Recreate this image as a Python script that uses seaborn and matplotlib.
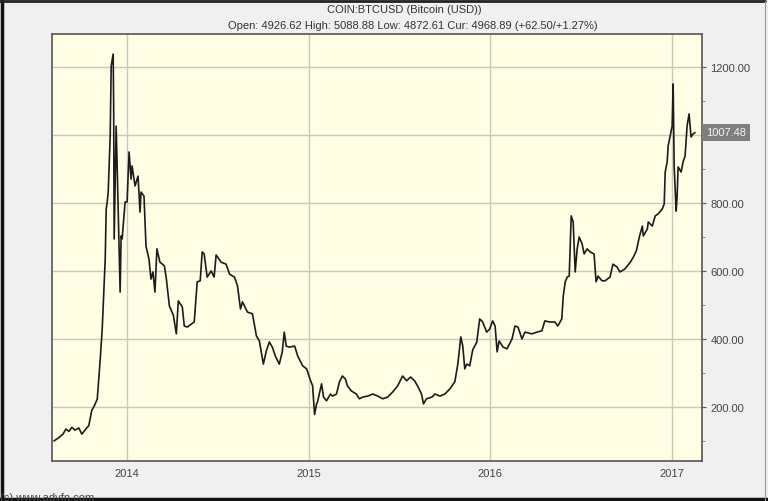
import matplotlib
matplotlib.use("Agg")
import matplotlib.pyplot as plt
from matplotlib.lines import Line2D
from matplotlib.ticker import MultipleLocator, FuncFormatter
import seaborn as sns
import pandas as pd

dates = [
    "2013-08-07", "2013-08-17", "2013-08-25", "2013-08-31", "2013-09-06", "2013-09-12",
    "2013-09-18", "2013-09-26", "2013-10-02", "2013-10-10", "2013-10-16", "2013-10-22",
    "2013-10-27", "2013-11-02", "2013-11-08", "2013-11-12", "2013-11-18", "2013-11-20",
    "2013-11-22", "2013-11-24", "2013-11-28", "2013-11-30", "2013-12-04", "2013-12-05",
    "2013-12-06", "2013-12-10", "2013-12-12", "2013-12-18", "2013-12-20", "2013-12-22",
    "2013-12-28", "2014-01-01", "2014-01-05", "2014-01-09", "2014-01-11", "2014-01-17",
    "2014-01-21", "2014-01-23", "2014-01-27", "2014-01-29", "2014-02-04", "2014-02-08",
    "2014-02-14", "2014-02-18", "2014-02-22", "2014-02-26", "2014-03-02", "2014-03-08",
    "2014-03-17", "2014-03-21", "2014-03-27", "2014-04-04", "2014-04-10", "2014-04-14",
    "2014-04-22", "2014-04-26", "2014-05-02", "2014-05-16", "2014-05-22", "2014-05-28",
    "2014-06-01", "2014-06-05", "2014-06-11", "2014-06-19", "2014-06-25", "2014-06-29",
    "2014-07-09", "2014-07-19", "2014-07-26", "2014-08-01", "2014-08-05", "2014-08-11",
    "2014-08-17", "2014-08-21", "2014-08-31", "2014-09-10", "2014-09-18", "2014-09-24",
    "2014-10-02", "2014-10-08", "2014-10-14", "2014-10-20", "2014-10-26", "2014-11-03",
    "2014-11-09", "2014-11-13", "2014-11-17", "2014-11-23", "2014-12-04", "2014-12-10",
    "2014-12-20", "2014-12-28", "2015-01-03", "2015-01-09", "2015-01-13", "2015-01-17",
    "2015-01-19", "2015-01-27", "2015-01-31", "2015-02-06", "2015-02-14", "2015-02-18",
    "2015-02-26", "2015-03-04", "2015-03-10", "2015-03-16", "2015-03-20", "2015-03-28",
    "2015-04-07", "2015-04-13", "2015-04-20", "2015-04-30", "2015-05-10", "2015-05-20",
    "2015-05-30", "2015-06-09", "2015-06-19", "2015-06-29", "2015-07-09", "2015-07-17",
    "2015-07-25", "2015-08-02", "2015-08-08", "2015-08-16", "2015-08-20", "2015-08-26",
    "2015-09-06", "2015-09-12", "2015-09-22", "2015-10-02", "2015-10-12", "2015-10-22",
    "2015-10-28", "2015-11-03", "2015-11-07", "2015-11-11", "2015-11-15", "2015-11-21",
    "2015-11-27", "2015-12-05", "2015-12-11", "2015-12-17", "2015-12-25", "2015-12-31",
    "2016-01-06", "2016-01-11", "2016-01-15", "2016-01-19", "2016-01-27", "2016-02-04",
    "2016-02-14", "2016-02-20", "2016-02-26", "2016-03-05", "2016-03-11", "2016-03-25",
    "2016-04-04", "2016-04-14", "2016-04-20", "2016-04-30", "2016-05-10", "2016-05-16",
    "2016-05-24", "2016-05-27", "2016-05-31", "2016-06-04", "2016-06-08", "2016-06-12",
    "2016-06-16", "2016-06-20", "2016-06-24", "2016-06-28", "2016-07-04", "2016-07-08",
    "2016-07-14", "2016-07-20", "2016-07-28", "2016-08-01", "2016-08-05", "2016-08-13",
    "2016-08-19", "2016-08-29", "2016-09-04", "2016-09-12", "2016-09-18", "2016-09-28",
    "2016-10-09", "2016-10-15", "2016-10-21", "2016-10-27", "2016-11-02", "2016-11-04",
    "2016-11-12", "2016-11-14", "2016-11-22", "2016-11-28", "2016-12-04", "2016-12-12",
    "2016-12-16", "2016-12-18", "2016-12-22", "2016-12-24", "2016-12-28", "2017-01-01",
    "2017-01-03", "2017-01-05", "2017-01-09", "2017-01-11", "2017-01-13", "2017-01-19",
    "2017-01-23", "2017-01-27", "2017-01-31", "2017-02-04", "2017-02-08", "2017-02-12",
    "2017-02-16",
]

prices = [
    100, 110, 120, 135, 128, 140,
    132, 138, 120, 135, 145, 190,
    203, 223, 341, 430, 635, 782,
    803, 832, 997, 1203, 1238, 1085,
    694, 1026, 909, 538, 703, 694,
    803, 803, 950, 870, 909, 850,
    870, 879, 773, 832, 820, 673,
    635, 576, 597, 538, 665, 626,
    615, 576, 497, 470, 415, 512,
    494, 438, 435, 450, 568, 571,
    656, 650, 582, 600, 582, 647,
    626, 620, 591, 585, 582, 556,
    488, 509, 479, 474, 409, 394,
    326, 365, 391, 376, 350, 326,
    362, 420, 379, 376, 379, 350,
    321, 312, 285, 262, 178, 209,
    215, 268, 229, 218, 238, 232,
    238, 274, 291, 282, 262, 247,
    238, 224, 229, 232, 238, 232,
    224, 229, 244, 262, 291, 277,
    288, 277, 262, 238, 209, 224,
    229, 238, 232, 238, 253, 274,
    326, 406, 379, 312, 326, 321,
    368, 390, 459, 450, 420, 429,
    453, 438, 362, 394, 376, 371,
    400, 438, 435, 400, 420, 415,
    420, 424, 453, 450, 450, 438,
    459, 526, 568, 582, 585, 762,
    744, 597, 665, 700, 679, 650,
    665, 656, 650, 568, 585, 571,
    571, 582, 620, 612, 597, 606,
    626, 641, 659, 700, 732, 703,
    723, 744, 732, 762, 768, 782,
    797, 891, 921, 968, 997, 1026,
    1150, 909, 776, 820, 906, 891,
    921, 938, 1026, 1062, 994, 1003,
    1007,
]

year_ticks = ["2014-01-01", "2015-01-01", "2016-01-01", "2017-01-01"]
year_labels = ["2014", "2015", "2016", "2017"]
y_ticks = [200, 400, 600, 800, 1000, 1200]
current_label = "1007.48"
current_value = 1007.48

title = "COIN:BTCUSD (Bitcoin (USD))"
subtitle = "Open: 4926.62 High: 5088.88 Low: 4872.61 Cur: 4968.89 (+62.50/+1.27%)"
footer = "(c) www.advfn.com"

df = pd.DataFrame({"date": pd.to_datetime(dates), "price": prices})

sns.set_style("white")
plt.rcParams["font.family"] = ["Liberation Sans", "DejaVu Sans"]

fig = plt.figure(figsize=(7.68, 5.02), dpi=100, facecolor="#f0f0f0")
ax = fig.add_axes([52 / 768, 1 - 462 / 502, 650 / 768, 427 / 502])
ax.set_facecolor("#fffde3")

sns.lineplot(data=df, x="date", y="price", ax=ax, color="#1c1c1c", linewidth=1.2)

ax.set_xlim(pd.Timestamp("2013-08-03"), pd.Timestamp("2017-03-02"))
ax.set_ylim(41, 1297)

ax.set_xticks(pd.to_datetime(year_ticks))
ax.set_xticklabels(year_labels)
ax.yaxis.tick_right()
ax.set_yticks([t for t in y_ticks if t != 1000])
ax.yaxis.set_major_formatter(FuncFormatter(lambda v, p: f"{v:.2f}"))
ax.yaxis.set_minor_locator(MultipleLocator(100))
ax.tick_params(axis="y", which="major", right=True, left=False, length=3, width=0.8,
               color="#555555", labelsize=8, labelcolor="#444444", pad=3)
ax.tick_params(axis="y", which="minor", right=True, left=False, length=2, width=0.6,
               color="#777777")
ax.tick_params(axis="x", length=2, color="#888888", labelsize=8, labelcolor="#444444", pad=3)

for yv in y_ticks:
    ax.axhline(yv, color="#c9c9c0", linewidth=1.0, zorder=0)
for xv in pd.to_datetime(year_ticks):
    ax.axvline(xv, color="#c9c9c0", linewidth=1.0, zorder=0)

for side in ["left", "right", "top", "bottom"]:
    ax.spines[side].set_visible(True)
    ax.spines[side].set_color("#555555")
    ax.spines[side].set_linewidth(1.2)

ax.set_xlabel("")
ax.set_ylabel("")

ax.annotate(current_label, xy=(1.0, current_value), xycoords=("axes fraction", "data"),
            xytext=(3, 0), textcoords="offset points", va="center", ha="left",
            fontsize=8, color="#f4f4f4",
            bbox=dict(boxstyle="square,pad=0.35", facecolor="#7f7f7f", edgecolor="none"))

fig.text(0.526, 1 - 10 / 502, title, ha="center", va="center", fontsize=8, color="#333333")
fig.text(0.538, 1 - 26 / 502, subtitle, ha="center", va="center", fontsize=8, color="#333333")
fig.text(0.0, 1 - 498 / 502, footer, ha="left", va="center", fontsize=8, color="#444444")

# screenshot frame: dark on left/top/bottom, thin grey on the right
fig.add_artist(Line2D([0.002, 0.002], [0, 1], transform=fig.transFigure, color="#111111", linewidth=2.5))
fig.add_artist(Line2D([0, 0.996], [0.997, 0.997], transform=fig.transFigure, color="#222222", linewidth=2.0))
fig.add_artist(Line2D([0, 1], [0.003, 0.003], transform=fig.transFigure, color="#111111", linewidth=2.5))
fig.add_artist(Line2D([0.996, 0.996], [0, 0.997], transform=fig.transFigure, color="#999999", linewidth=0.8))

fig.savefig("out.png", dpi=100, facecolor=fig.get_facecolor())
